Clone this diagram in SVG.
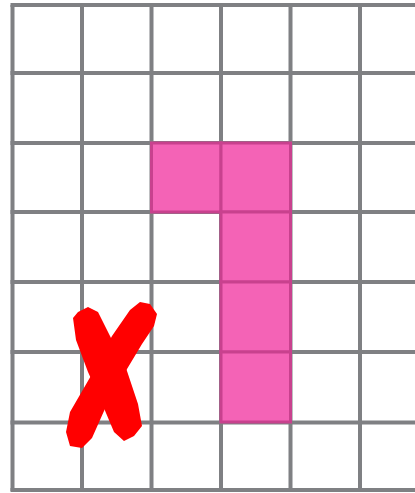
<svg xmlns="http://www.w3.org/2000/svg" width="415" height="493" viewBox="0 0 415 493">
<style>
.cell{fill:#F463B6;stroke:#C8418E;stroke-width:3}
.g{stroke:#7F8083;stroke-width:4;fill:none}
.x{fill:#FF0000}
</style>
<rect width="415" height="493" fill="#ffffff"/>
<g id="grid" class="g">
<path d="M12.5 5V491M82 5V491M151.5 5V491M221 5V491M290.5 5V491M360 5V491"/>
<path d="M10.5 5H415M10.5 73H415M10.5 143H415M10.5 212H415M10.5 282H415M10.5 352H415M10.5 422.5H415M10.5 490H415"/>
</g>
<g id="pink">
<rect class="cell" x="151.5" y="143" width="69.5" height="69"/>
<rect class="cell" x="221" y="143" width="69.5" height="69"/>
<rect class="cell" x="221" y="212" width="69.5" height="70"/>
<rect class="cell" x="221" y="282" width="69.5" height="70"/>
<rect class="cell" x="221" y="352" width="69.5" height="70"/>
</g>
<g id="cross">
<path class="x" d="M73 318 L78 312 L88 307 L98 312 L114 344 L124 362 L138 404 L142 426 L134 436 L124 441 L114 432 L98 394 L88 372 L76 340 Z"/>
<path class="x" d="M140 302 L150 304 L157 314 L154 326 L142 344 L124 374 L108 402 L92 438 L82 448 L70 446 L66 432 L70 412 L92 374 L112 336 L130 310 Z"/>
</g>
</svg>
